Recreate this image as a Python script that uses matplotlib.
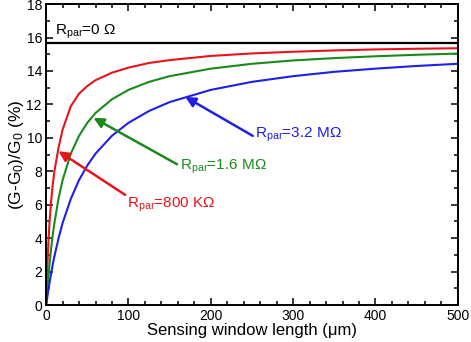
import matplotlib
matplotlib.use('Agg')
import matplotlib.pyplot as plt
from matplotlib.ticker import MultipleLocator

plt.rcParams['font.family'] = ['Liberation Sans', 'DejaVu Sans']
plt.rcParams['mathtext.fontset'] = 'custom'
plt.rcParams['mathtext.rm'] = 'Liberation Sans'
plt.rcParams['mathtext.it'] = 'Liberation Sans:italic'

# sensing window length (um)
length = [0, 1, 2, 4, 6, 8, 10, 15, 20, 30, 40, 50, 60, 80, 100,
          125, 150, 200, 250, 300, 350, 400, 450, 500]
r800k = [0, 1.7, 3.0, 4.9, 6.2, 7.2, 8.0, 9.4, 10.5, 11.9, 12.65, 13.1,
         13.45, 13.9, 14.2, 14.48, 14.65, 14.9, 15.05, 15.15, 15.23, 15.29, 15.33, 15.36]
r1m6 = [0, 0.68, 1.31, 2.42, 3.36, 4.19, 4.91, 6.36, 7.48, 9.06, 10.13, 10.90,
        11.49, 12.31, 12.87, 13.35, 13.69, 14.14, 14.43, 14.63, 14.77, 14.88, 14.97, 15.04]
r3m2 = [0, 0.35, 0.68, 1.31, 1.88, 2.42, 2.91, 3.99, 4.91, 6.36, 7.48, 8.35,
        9.06, 10.13, 10.90, 11.61, 12.14, 12.87, 13.35, 13.69, 13.95, 14.14, 14.30, 14.43]
r_zero = 15.7

red = '#e8141c'
green = '#1a8a1a'
blue = '#1f1fe6'

fig = plt.figure(figsize=(4.71, 3.42), dpi=100)
ax = fig.add_axes([0.098, 0.108, 0.874, 0.88])

ax.axhline(r_zero, color='black', lw=1.6)
ax.plot(length, r800k, color=red, lw=1.5)
ax.plot(length, r1m6, color=green, lw=1.5)
ax.plot(length, r3m2, color=blue, lw=1.5)

ax.set_xlim(0, 500)
ax.set_ylim(0, 18)
ax.xaxis.set_major_locator(MultipleLocator(100))
ax.xaxis.set_minor_locator(MultipleLocator(20))
ax.yaxis.set_major_locator(MultipleLocator(2))
ax.yaxis.set_minor_locator(MultipleLocator(1))
ax.tick_params(which='both', direction='in', top=True, right=True,
               labelsize=10, width=1.1, pad=3)
ax.tick_params(which='major', length=5)
ax.tick_params(which='minor', length=3)
for s in ax.spines.values():
  s.set_linewidth(1.4)

ax.set_xlabel('Sensing window length (\u03bcm)', fontsize=12, labelpad=0)
ax.set_ylabel(r'(G-G$_0$)/G$_0$ (%)', fontsize=12.5, labelpad=0)

ax.text(11, 16.15, r'R$_{\rm par}$=0 $\Omega$', fontsize=11, color='black')

arrow = {'arrowstyle': '-|>', 'lw': 1.8, 'mutation_scale': 15,
         'shrinkA': 0, 'shrinkB': 0}
ax.annotate('', xy=(169, 12.45), xytext=(251, 10.12),
            arrowprops=dict(arrow, color=blue))
ax.text(254, 10.0, r'R$_{\rm par}$=3.2 M$\Omega$', fontsize=11, color=blue)

ax.annotate('', xy=(57.5, 11.2), xytext=(159, 8.42),
            arrowprops=dict(arrow, color=green))
ax.text(163, 8.1, r'R$_{\rm par}$=1.6 M$\Omega$', fontsize=11, color=green)

ax.annotate('', xy=(15, 9.2), xytext=(96, 6.59),
            arrowprops=dict(arrow, color=red))
ax.text(98, 5.8, r'R$_{\rm par}$=800 K$\Omega$', fontsize=11, color=red)

plt.savefig('out.png', dpi=100)
